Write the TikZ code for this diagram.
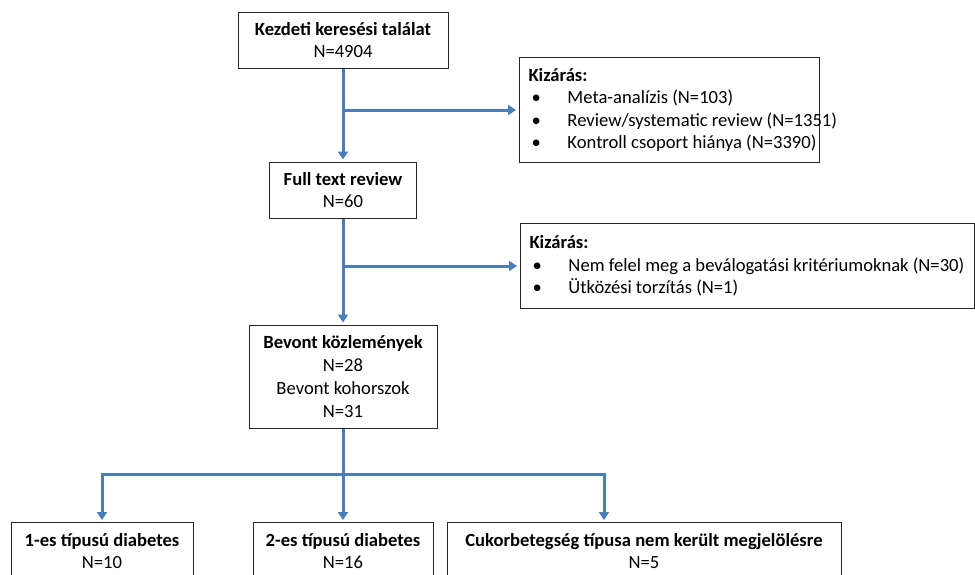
\documentclass[tikz,border=0pt]{standalone}
\usepackage{fontspec}
\setmainfont{Carlito}
\usetikzlibrary{arrows.meta,positioning}
\definecolor{flowblue}{HTML}{4A7EBB}

\begin{document}
\begin{tikzpicture}[x=1pt, y=-1pt,
    flowbox/.style={draw=black!85, line width=1pt, fill=white, align=center,
      inner sep=0pt, font=\fontsize{18.6}{22.8}\selectfont},
    exclbox/.style={draw=black!85, line width=1pt, fill=white, align=flush left,
      inner xsep=9pt, inner ysep=0pt, anchor=north west,
      font=\fontsize{18.6}{22.5}\selectfont},
    flowarrow/.style={draw=flowblue, line width=3pt,
      -{Triangle[width=10pt,length=8pt]}, shorten >=2pt},
    flowline/.style={draw=flowblue, line width=3pt}
  ]
  \path[use as bounding box, clip] (0,0) rectangle (975,574);
  \newcommand{\bul}[1]{\mbox{\hspace*{3pt}\makebox[36pt][l]{\textbullet}#1}}

  % main column
  \node[flowbox, minimum width=210, minimum height=56] at (343, 40) (start)
    {\textbf{Kezdeti keresési találat}\\N=4904};
  \node[flowbox, minimum width=147, minimum height=56] at (343, 190) (fulltext)
    {\textbf{Full text review}\\N=60};
  \node[flowbox, minimum width=188, minimum height=103] at (343, 376.5) (included)
    {\textbf{Bevont közlemények}\\N=28\\Bevont kohorszok\\N=31};

  % exclusions
  \node[exclbox, text width=282, minimum height=105] at (519, 57) (excla)
    {\textbf{Kizárás:}\\\bul{Meta-analízis (N=103)}\\
     \bul{Review/systematic review (N=1351)}\\\bul{Kontroll csoport hiánya (N=3390)}};
  \node[exclbox, text width=436, minimum height=85] at (520, 223) (exclb)
    {\textbf{Kizárás:}\\\bul{Nem felel meg a beválogatási kritériumoknak (N=30)}\\
     \bul{Ütközési torzítás (N=1)}};

  % diabetes types
  \node[flowbox, anchor=north, minimum width=182, minimum height=57] at (102, 522) (type1)
    {\textbf{1-es típusú diabetes}\\N=10};
  \node[flowbox, anchor=north, minimum width=180, minimum height=57] at (343, 522) (type2)
    {\textbf{2-es típusú diabetes}\\N=16};
  \node[flowbox, anchor=north, minimum width=394, minimum height=57] at (644, 522) (typex)
    {\textbf{Cukorbetegség típusa nem került megjelölésre}\\N=5};
  \coordinate (split) at (343, 474);

  % edges
  \draw[flowarrow] (start) -- (fulltext);
  \draw[flowarrow] (fulltext) -- (included);
  \draw[flowarrow, shorten >=3pt] (start.south |- excla.west) -- (excla.west);
  \draw[flowarrow, shorten >=3pt] (fulltext.south |- exclb.west) -- (exclb.west);
  \draw[flowline] (included) -- (split);
  \draw[flowarrow] (split) -| (type1.north);
  \draw[flowarrow] (split) -- (type2.north);
  \draw[flowarrow] (split) -| ([xshift=-40pt]typex.north);
\end{tikzpicture}
\end{document}
